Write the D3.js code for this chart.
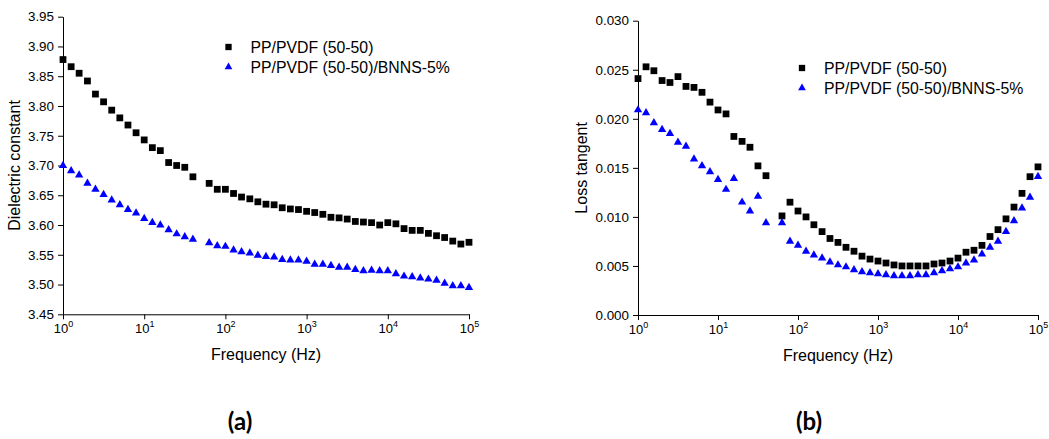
<!DOCTYPE html>
<html lang="en">
<head>
  <meta charset="UTF-8">
  <title>Dielectric constant and loss tangent</title>
  <style>
    body { margin: 0; background: #fff; }
    text { font-family: "Liberation Sans", Arial, sans-serif; fill: #000; }
  </style>
</head>
<body>
  <svg id="svg" width="1049" height="439"></svg>
  <script src="https://cdn.jsdelivr.net/npm/d3@7"></script>
  <script>
    // frequency points (Hz), the 50 Hz point is missing in the measurement
    const freqs = [1, 1.26, 1.58, 2, 2.51, 3.16, 3.98, 5.01, 6.31, 7.94,
      10, 12.6, 15.8, 20, 25.1, 31.6, 39.8, 63.1, 79.4,
      100, 126, 158, 200, 251, 316, 398, 501, 631, 794,
      1000, 1259, 1585, 1995, 2512, 3162, 3981, 5012, 6310, 7943,
      10000, 12589, 15849, 19953, 25119, 31623, 39811, 50119, 63096, 79433, 100000]

    const seriesNames = ['PP/PVDF (50-50)', 'PP/PVDF (50-50)/BNNS-5%']

    // (a) dielectric constant
    const epsBlend = [3.878, 3.866, 3.855, 3.842, 3.820, 3.807, 3.793, 3.780, 3.768, 3.755,
      3.743, 3.730, 3.725, 3.705, 3.700, 3.697, 3.681, 3.670, 3.660,
      3.660, 3.653, 3.647, 3.644, 3.639, 3.635, 3.634, 3.629, 3.627, 3.626,
      3.623, 3.621, 3.618, 3.613, 3.612, 3.610, 3.606, 3.605, 3.604, 3.600,
      3.604, 3.602, 3.594, 3.591, 3.591, 3.586, 3.582, 3.579, 3.573, 3.568, 3.571]
    const epsBnns = [3.700, 3.691, 3.684, 3.670, 3.660, 3.651, 3.642, 3.634, 3.626, 3.620,
      3.611, 3.604, 3.600, 3.592, 3.585, 3.580, 3.576, 3.570, 3.565,
      3.564, 3.558, 3.555, 3.553, 3.549, 3.547, 3.546, 3.542, 3.541, 3.541,
      3.539, 3.534, 3.534, 3.532, 3.529, 3.529, 3.525, 3.523, 3.524, 3.523,
      3.523, 3.518, 3.514, 3.513, 3.511, 3.509, 3.507, 3.502, 3.498, 3.498, 3.495]

    // (b) loss tangent
    const tanBlend = [0.0241, 0.0253, 0.0249, 0.0239, 0.0237, 0.0243, 0.0233, 0.0232, 0.0227, 0.0217,
      0.0209, 0.0205, 0.0182, 0.0177, 0.0171, 0.0152, 0.0142, 0.0101, 0.0115,
      0.0106, 0.0100, 0.0092, 0.0085, 0.0078, 0.0074, 0.0069, 0.0065, 0.0060, 0.0057,
      0.0055, 0.0053, 0.0051, 0.0050, 0.0050, 0.0050, 0.0050, 0.0052, 0.0053, 0.0055,
      0.0058, 0.0064, 0.0066, 0.0071, 0.0080, 0.0087, 0.0098, 0.0110, 0.0124, 0.0141, 0.0151]
    const tanBnns = [0.0209, 0.0206, 0.0196, 0.0189, 0.0185, 0.0176, 0.0172, 0.0159, 0.0152, 0.0146,
      0.0138, 0.0128, 0.0139, 0.0115, 0.0106, 0.0121, 0.0094, 0.0094, 0.0075,
      0.0071, 0.0065, 0.0061, 0.0058, 0.0054, 0.0051, 0.0049, 0.0046, 0.0044, 0.0043,
      0.0042, 0.0041, 0.0040, 0.0040, 0.0040, 0.0041, 0.0041, 0.0043, 0.0045, 0.0047,
      0.0049, 0.0053, 0.0056, 0.0062, 0.0069, 0.0075, 0.0085, 0.0096, 0.0109, 0.0120, 0.0141]

    const xMajor = [1, 10, 100, 1000, 10000, 100000]
    const xMinor = [2, 3, 4, 5, 6, 7, 8, 9, 20, 30, 40, 50, 60, 70, 80, 90,
      200, 300, 400, 500, 600, 700, 800, 900, 2000, 3000, 4000, 5000, 6000, 7000, 8000, 9000,
      20000, 30000, 40000, 50000, 60000, 70000, 80000, 90000]
    const epsTicks = [3.45, 3.50, 3.55, 3.60, 3.65, 3.70, 3.75, 3.80, 3.85, 3.90, 3.95]
    const epsMinor = [3.475, 3.525, 3.575, 3.625, 3.675, 3.725, 3.775, 3.825, 3.875, 3.925]
    const tanTicks = [0, 0.005, 0.010, 0.015, 0.020, 0.025, 0.030]
    const tanMinor = [0.0025, 0.0075, 0.0125, 0.0175, 0.0225, 0.0275]

    const svg = d3.select('#svg')
    const black = '#000'
    const blue = '#0000ff'
    const square = d3.symbol(d3.symbolSquare, 46)
    const triangle = d3.symbol(d3.symbolTriangle, 30)

    function drawPanel(opt) {
      const g = svg.append('g')
      const x = d3.scaleLog().domain([1, 100000]).range(opt.xr)
      const y = d3.scaleLinear().domain(opt.yd).range(opt.yr)

      // x axis
      const xa = g.append('g').attr('transform', `translate(0, ${opt.yr[0]})`)
      xa.call(d3.axisBottom(x).tickValues(xMinor).tickSize(3).tickFormat(''))
      xa.call(d3.axisBottom(x).tickValues(xMajor).tickSize(5).tickSizeOuter(0).tickFormat(''))
      xa.selectAll('.tick')
        .filter(d => xMajor.includes(d))
        .append('text')
        .attr('y', 19).attr('dy', 0)
        .attr('text-anchor', 'middle')
        .style('font-size', '13px')
        .each(function (d) {
          const t = d3.select(this)
          t.append('tspan').text('10')
          t.append('tspan').attr('dy', -6).style('font-size', '9px').text(Math.round(Math.log10(d)))
        })

      // y axis
      const ya = g.append('g').attr('transform', `translate(${opt.xr[0]}, 0)`)
      ya.call(d3.axisLeft(y).tickValues(opt.minor).tickSize(3).tickFormat(''))
      ya.call(d3.axisLeft(y).tickValues(opt.ticks).tickSize(5).tickSizeOuter(0).tickPadding(4).tickFormat(d3.format(opt.fmt)))
      ya.selectAll('text').style('font-size', '13.4px').attr('fill', black)
      g.selectAll('.domain, .tick line').attr('stroke', black)
      g.selectAll('g').attr('font-family', null)

      // axis titles
      g.append('text')
        .attr('x', (opt.xr[0] + opt.xr[1]) / 2)
        .attr('y', opt.yr[0] + 46)
        .attr('text-anchor', 'middle')
        .style('font-size', '16px')
        .text('Frequency (Hz)')
      g.append('text')
        .attr('transform', `translate(${opt.titleX}, ${(opt.yr[0] + opt.yr[1]) / 2}) rotate(-90)`)
        .attr('text-anchor', 'middle')
        .style('font-size', '16px')
        .text(opt.yTitle)

      // data markers
      g.append('g').selectAll('path')
        .data(freqs.map((f, i) => [f, opt.s1[i]]))
        .enter().append('path')
        .attr('d', square)
        .attr('transform', d => `translate(${x(d[0])}, ${y(d[1])})`)
        .attr('fill', black)
      g.append('g').selectAll('path')
        .data(freqs.map((f, i) => [f, opt.s2[i]]))
        .enter().append('path')
        .attr('d', triangle)
        .attr('transform', d => `translate(${x(d[0])}, ${y(d[1])})`)
        .attr('fill', blue)

      // legend
      const lg = g.append('g').attr('transform', `translate(${opt.legend[0]}, ${opt.legend[1]})`)
      seriesNames.forEach((name, i) => {
        lg.append('path')
          .attr('d', i === 0 ? d3.symbol(d3.symbolSquare, 40) : d3.symbol(d3.symbolTriangle, 26))
          .attr('transform', `translate(0, ${i * 20})`)
          .attr('fill', i === 0 ? black : blue)
        lg.append('text')
          .attr('x', 22).attr('y', i * 20 + 5.5)
          .style('font-size', '15.8px')
          .text(name)
      })

      // panel label
      svg.append('text')
        .attr('x', opt.label[0]).attr('y', 430)
        .attr('text-anchor', 'middle')
        .style('font-family', 'Lato, "Open Sans", sans-serif')
        .style('font-weight', 'bold')
        .style('font-size', '24px')
        .text(opt.label[1])
    }

    drawPanel({
      xr: [63, 469], yr: [314.3, 16.7], yd: [3.45, 3.95],
      ticks: epsTicks, minor: epsMinor, fmt: '.2f',
      s1: epsBlend, s2: epsBnns,
      yTitle: 'Dielectric constant', titleX: 20,
      legend: [228.5, 47], label: [240, '(a)']
    })

    drawPanel({
      xr: [638, 1038], yr: [315, 20.7], yd: [0, 0.03],
      ticks: tanTicks, minor: tanMinor, fmt: '.3f',
      s1: tanBlend, s2: tanBnns,
      yTitle: 'Loss tangent', titleX: 587,
      legend: [802, 68], label: [809, '(b)']
    })
  </script>
</body>
</html>
